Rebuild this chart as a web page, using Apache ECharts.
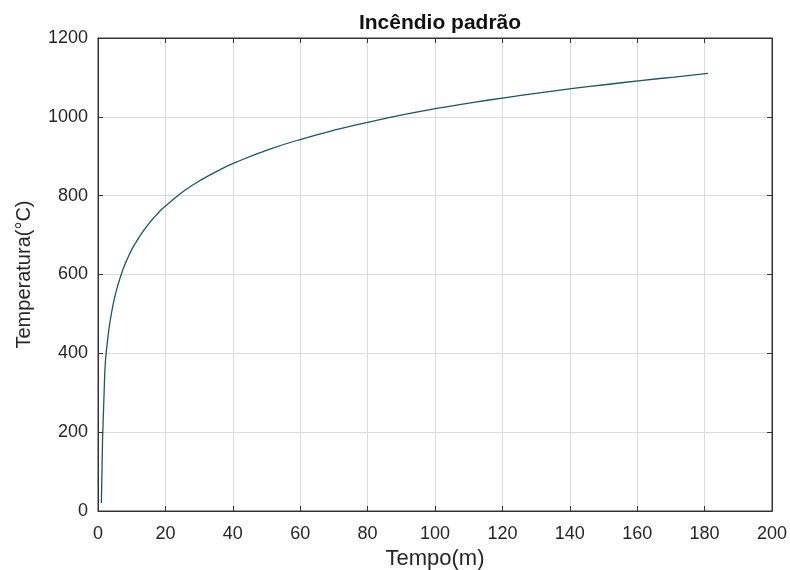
<!DOCTYPE html>
<html>
<head>
<meta charset="utf-8">
<script src="https://cdn.jsdelivr.net/npm/echarts@6/dist/echarts.min.js"></script>
<style>
html,body{margin:0;padding:0;background:#fff;}
#c{width:790px;height:570px;}
</style>
</head>
<body>
<div id="c"></div>
<script>
// Time (minutes) as plotted on the x axis
var tempo = [1, 2, 3, 4, 5, 6, 7, 8, 9, 10, 11, 13, 15, 17, 19, 21, 26, 31, 36, 41, 51, 61, 71, 81, 91, 101, 111, 121, 131, 141, 151, 161, 171, 181];
// Temperature (°C)
var temperatura = [20, 349, 445, 502, 544, 576, 603, 626, 645, 663, 678, 705, 728, 748, 766, 781, 815, 842, 865, 885, 918, 945, 968, 988, 1006, 1022, 1036, 1049, 1061, 1072, 1082, 1092, 1101, 1110];
var xTicks = [0, 20, 40, 60, 80, 100, 120, 140, 160, 180, 200];
var yTicks = [0, 200, 400, 600, 800, 1000, 1200];

var data = tempo.map(function (t, i) { return [t, temperatura[i]]; });
var txt = '#262626';
var font = 'Liberation Sans, Arial, Helvetica, sans-serif';
var plain = function (v) { return String(v); };
var tick = {show: true, inside: true, length: 5, lineStyle: {color: '#333', width: 1}};
var line = {show: true, onZero: false, lineStyle: {color: '#333', width: 1}};

var chart = echarts.init(document.getElementById('c'), null, {renderer: 'canvas'});
chart.setOption({
  animation: false,
  backgroundColor: '#ffffff',
  title: {
    text: 'Incêndio padrão',
    left: 435, textAlign: 'center', top: 8,
    textStyle: {fontFamily: font, fontSize: 21, fontWeight: 'bold', color: '#111'}
  },
  grid: {left: 98, right: 18, top: 38, bottom: 59, show: true, borderColor: '#333', borderWidth: 1,
         containLabel: false, outerBoundsMode: 'none'},
  xAxis: [{
    type: 'value', position: 'bottom', min: xTicks[0], max: xTicks[xTicks.length - 1], interval: 20,
    name: 'Tempo(m)', nameLocation: 'middle', nameGap: 37,
    nameTextStyle: {fontFamily: font, fontSize: 22, color: txt},
    axisLine: line, axisTick: tick,
    axisLabel: {fontFamily: font, fontSize: 18, color: txt, margin: 14, formatter: plain},
    splitLine: {show: true, lineStyle: {color: '#dcdcdc', width: 1}}
  }, {
    type: 'value', position: 'top', min: xTicks[0], max: xTicks[xTicks.length - 1], interval: 20,
    axisLine: line, axisTick: tick,
    axisLabel: {show: false}, splitLine: {show: false}
  }],
  yAxis: [{
    type: 'value', position: 'left', min: yTicks[0], max: yTicks[yTicks.length - 1], interval: 200,
    name: 'Temperatura(°C)', nameLocation: 'middle', nameGap: 64,
    nameTextStyle: {fontFamily: font, fontSize: 20, color: txt},
    axisLine: line, axisTick: tick,
    axisLabel: {fontFamily: font, fontSize: 18, color: txt, margin: 10, formatter: plain},
    splitLine: {show: true, lineStyle: {color: '#dcdcdc', width: 1}}
  }, {
    type: 'value', position: 'right', min: yTicks[0], max: yTicks[yTicks.length - 1], interval: 200,
    axisLine: line, axisTick: tick,
    axisLabel: {show: false}, splitLine: {show: false}
  }],
  series: [{
    type: 'line', data: data, xAxisIndex: 0, yAxisIndex: 0,
    showSymbol: false, smooth: true,
    lineStyle: {color: '#1f5560', width: 1.3}
  }]
});
</script>
</body>
</html>
